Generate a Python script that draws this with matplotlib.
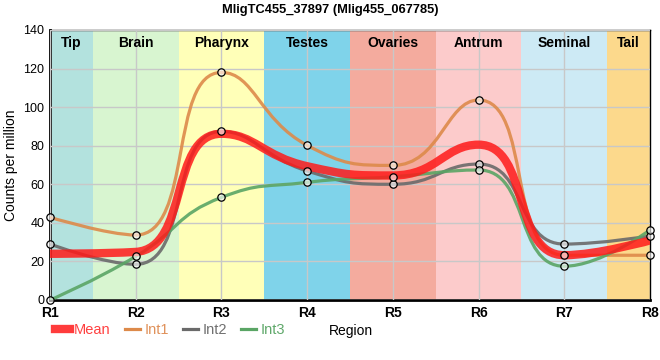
import matplotlib
matplotlib.use('Agg')
import matplotlib.pyplot as plt
import numpy as np
from matplotlib.path import Path
from matplotlib.patches import PathPatch
from matplotlib.lines import Line2D

plt.rcParams['font.family'] = ['Liberation Sans', 'DejaVu Sans']

# --- Data --- #
regions = ['R1', 'R2', 'R3', 'R4', 'R5', 'R6', 'R7', 'R8']
int1 = [42.9, 33.7, 118.0, 80.2, 69.8, 103.7, 23.2, 23.2]
int2 = [29.0, 18.5, 87.4, 66.9, 60.0, 70.5, 29.0, 33.2]
int3 = [0.0, 22.6, 53.2, 61.0, 63.9, 67.4, 17.5, 36.3]
mean = list(np.mean([int1, int2, int3], axis=0))

zones = ['Tip', 'Brain', 'Pharynx', 'Testes', 'Ovaries', 'Antrum', 'Seminal', 'Tail']
zone_colors = ['#b3e2de', '#d8f5d0', '#ffffb8', '#7fd3ea', '#f4ab9e', '#fccbcb', '#cdeaf5', '#fcd98c']


def smooth_path(ax, xs, ys, smooth=0.5):
	"""
	Bezier path through the points, control points chosen in pixel space
	the way the original web chart does it (clamped, length-weighted).
	"""
	pts = ax.transData.transform(np.column_stack([xs, ys]))
	n = len(pts)
	verts = [tuple(pts[0])]
	codes = [Path.MOVETO]
	cp0 = pts[0].copy()
	for i in range(1, n):
		px, py = pts[i - 1]
		x, y = pts[i]
		if i == n - 1:
			cp1 = np.array([x, y])
			nxt = None
		else:
			nx, ny = pts[i + 1]
			vx, vy = nx - px, ny - py
			len_prev = np.hypot(x - px, y - py)
			len_next = np.hypot(nx - x, ny - y)
			ratio = len_next / (len_next + len_prev)
			ncx = x + vx * smooth * ratio
			ncy = y + vy * smooth * ratio
			ncx = max(min(ncx, max(nx, x)), min(nx, x))
			ncy = max(min(ncy, max(ny, y)), min(ny, y))
			vx, vy = ncx - x, ncy - y
			c1x = x - vx * len_prev / len_next
			c1y = y - vy * len_prev / len_next
			c1x = max(min(c1x, max(px, x)), min(px, x))
			c1y = max(min(c1y, max(py, y)), min(py, y))
			vx, vy = x - c1x, y - c1y
			cp1 = np.array([c1x, c1y])
			nxt = np.array([x + vx * len_next / len_prev, y + vy * len_next / len_prev])
		verts += [tuple(cp0), tuple(cp1), (x, y)]
		codes += [Path.CURVE4] * 3
		cp0 = nxt
	verts = ax.transData.inverted().transform(np.array(verts))
	return Path(verts, codes)


fig = plt.figure(figsize=(6.6, 3.6), dpi=100)
ax = fig.add_axes([50 / 660, 60 / 360, 600 / 660, 270 / 360])
ax.set_xlim(0, 7)
ax.set_ylim(0, 140)

xs = np.arange(len(regions))

# --- Background zones --- #
edges = [0, 0.5, 1.5, 2.5, 3.5, 4.5, 5.5, 6.5, 7]
for i in range(len(zones)):
	ax.axvspan(edges[i], edges[i + 1], color=zone_colors[i], lw=0, zorder=0)
	ax.text((edges[i] + edges[i + 1]) / 2, 137, zones[i], ha='center', va='top',
			fontsize=10, fontweight='bold', zorder=5)

ax.grid(True, color='#c8c8c8', lw=1, zorder=1)
ax.set_axisbelow(False)

series = [(int1, '#dd8a4a', 'Int1'), (int2, '#6a6a6a', 'Int2'), (int3, '#5aa565', 'Int3')]
for vals, col, name in series:
	ax.add_patch(PathPatch(smooth_path(ax, xs, vals), fill=False, ec=col, lw=2.3, alpha=0.9, zorder=3))

ax.add_patch(PathPatch(smooth_path(ax, xs, mean), fill=False, ec='#ff1a1a', lw=6, alpha=0.85, zorder=4,
					   capstyle='butt'))

for vals, col, name in series:
	ax.scatter(xs, vals, s=28, facecolor='#ffffffa0', edgecolor='black', lw=0.9, zorder=6, clip_on=False)

ax.set_xticks(xs)
ax.set_xticklabels(regions, fontweight='bold', fontsize=10)
ax.set_yticks(np.arange(0, 141, 20))
ax.tick_params(axis='y', labelsize=9, length=0, pad=4)
ax.tick_params(axis='x', length=0, pad=4.5)
ax.set_ylabel('Counts per million', fontsize=10)

for side in ['left', 'bottom']:
	ax.spines[side].set_linewidth(2)
for side in ['top', 'right']:
	ax.spines[side].set_linewidth(1)

fig.suptitle('MligTC455_37897 (Mlig455_067785)', fontsize=9.3, fontweight='bold', y=0.99)

handles = [Line2D([], [], color='#ff1a1a', lw=6, alpha=0.85),
		   Line2D([], [], color='#dd8a4a', lw=2.3),
		   Line2D([], [], color='#6a6a6a', lw=2.3),
		   Line2D([], [], color='#5aa565', lw=2.3)]
leg = fig.legend(handles, ['Mean', 'Int1', 'Int2', 'Int3'], loc='center left',
				 bbox_to_anchor=(55 / 660, 30 / 360), ncol=4, frameon=False, fontsize=10.5,
				 borderpad=0, borderaxespad=0, handlelength=1.0, handletextpad=0.3,
				 columnspacing=1.0)
for txt, col in zip(leg.get_texts(), ['#ff4040', '#e0915a', '#707070', '#5fa86a']):
	txt.set_color(col)
fig.text(351 / 660, 29 / 360, 'Region', ha='center', va='center', fontsize=10)

fig.savefig('out.png', dpi=100)
